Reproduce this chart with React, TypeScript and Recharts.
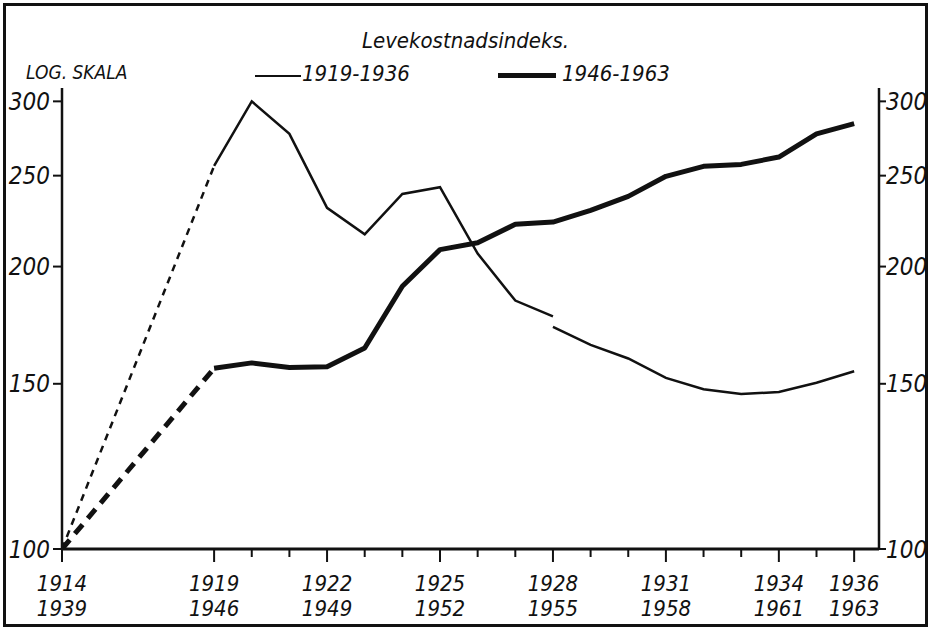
import { LineChart, Line, XAxis, YAxis } from 'recharts';

// index values, log scale
const baseYearA = 1914;
const baseYearB = 1939;
const baseValue = 100;

const yearsA = [1919, 1920, 1921, 1922, 1923, 1924, 1925, 1926, 1927, 1928, 1929, 1930, 1931, 1932, 1933, 1934, 1935, 1936];
const yearsB = [1946, 1947, 1948, 1949, 1950, 1951, 1952, 1953, 1954, 1955, 1956, 1957, 1958, 1959, 1960, 1961, 1962, 1963];

// 1919-1936, thin line (break in 1928)
const thinPart1 = [256, 300, 277, 231, 216.5, 239, 243, 206.5, 184, 177];
const thinPart2 = [172.5, 165, 159.6, 152.2, 148, 146.3, 147, 150.4, 154.7];

// 1946-1963, thick line
const thickValues = [155.8, 157.9, 156.1, 156.4, 163.8, 190.6, 208.5, 212, 221.9, 223.1, 229.6, 237.6, 249.6, 255.8, 257, 261.7, 277, 284];

const labeledA = [1914, 1919, 1922, 1925, 1928, 1931, 1934, 1936];
const labeledB = [baseYearB, 1946, 1949, 1952, 1955, 1958, 1961, 1963];
const yTicks = [100, 150, 200, 250, 300];

// the axis is broken between 1914 and 1919 (drawn narrower)
const gapWidth = 4.04;
const xPos = (yearA: number) => (yearA < 1919 ? 1919 - gapWidth : yearA);

const dashedA = [
  { x: xPos(baseYearA), v: baseValue },
  { x: xPos(yearsA[0]), v: thinPart1[0] },
];
const solidA1 = thinPart1.map((v, i) => ({ x: xPos(yearsA[i]), v }));
const solidA2 = thinPart2.map((v, i) => ({ x: xPos(yearsA[i + 9]), v }));
const dashedB = [
  { x: xPos(baseYearA), v: baseValue },
  { x: xPos(yearsB[0] - 27), v: thickValues[0] },
];
const solidB = thickValues.map((v, i) => ({ x: xPos(yearsB[i] - 27), v }));

const xTicks = [baseYearA, ...yearsA].map(xPos);

const font = "'DejaVu Sans Condensed', 'Liberation Sans Narrow', sans-serif";
const ink = '#111';

const XTick = (props: any) => {
  const { x, y, payload } = props;
  const idx = labeledA.findIndex((yr) => Math.abs(xPos(yr) - payload.value) < 0.01);
  const major = idx >= 0;
  return (
    <g>
      <line x1={x} y1={y} x2={x} y2={y + (major ? 13 : 8)} stroke={ink} strokeWidth={2} />
      {major && (
        <>
          <text x={x} y={y + 42} textAnchor="middle" fontSize={22} fontStyle="italic" fontFamily={font} fill={ink}>
            {labeledA[idx]}
          </text>
          <text x={x} y={y + 67} textAnchor="middle" fontSize={22} fontStyle="italic" fontFamily={font} fill={ink}>
            {labeledB[idx]}
          </text>
        </>
      )}
    </g>
  );
};

const App = () => {
  return (
    <div style={{ position: 'relative', width: 931, height: 631, background: '#fff' }}>
      <style>{`body{margin:0}`}</style>
      <div
        style={{
          position: 'absolute',
          left: 3,
          top: 3,
          width: 919,
          height: 618,
          border: `3px solid ${ink}`,
        }}
      />
      <div
        style={{
          position: 'absolute',
          left: 0,
          width: 931,
          top: 28,
          textAlign: 'center',
          fontFamily: font,
          fontStyle: 'italic',
          fontSize: 22,
          color: ink,
        }}
      >
        Levekostnadsindeks.
      </div>
      <div style={{ position: 'absolute', left: 26, top: 61, fontFamily: font, fontStyle: 'italic', fontSize: 19, color: ink }}>
        LOG. SKALA
      </div>
      <div style={{ position: 'absolute', left: 255, top: 75, width: 46, height: 2, background: ink }} />
      <div style={{ position: 'absolute', left: 302, top: 61, fontFamily: font, fontStyle: 'italic', fontSize: 22, color: ink }}>
        1919-1936
      </div>
      <div style={{ position: 'absolute', left: 498, top: 73, width: 58, height: 5, background: ink }} />
      <div style={{ position: 'absolute', left: 562, top: 61, fontFamily: font, fontStyle: 'italic', fontSize: 22, color: ink }}>
        1946-1963
      </div>
      <div style={{ position: 'absolute', left: 0, top: 0 }}>
        <LineChart width={931} height={631} margin={{ top: 88, right: 2, bottom: 22, left: 12 }}>
          <XAxis
            dataKey="x"
            type="number"
            domain={[xPos(baseYearA), 1936.66]}
            ticks={xTicks}
            interval={0}
            allowDataOverflow
            height={60}
            tickSize={0}
            tickMargin={0}
            tickLine={false}
            axisLine={{ stroke: ink, strokeWidth: 3 }}
            tick={<XTick />}
          />
          <YAxis
            yAxisId="left"
            scale="log"
            domain={[100, 310]}
            allowDataOverflow
            ticks={yTicks}
            interval={0}
            width={50}
            tickSize={9}
            tickMargin={3}
            axisLine={{ stroke: ink, strokeWidth: 2.5 }}
            tickLine={{ stroke: ink, strokeWidth: 2 }}
            tick={{ fill: ink, fontSize: 24, fontStyle: 'italic', fontFamily: font }}
          />
          <YAxis
            yAxisId="right"
            orientation="right"
            scale="log"
            domain={[100, 310]}
            allowDataOverflow
            ticks={yTicks}
            interval={0}
            width={50}
            tickSize={7}
            tickMargin={0}
            axisLine={{ stroke: ink, strokeWidth: 2.5 }}
            tickLine={{ stroke: ink, strokeWidth: 2 }}
            tick={{ fill: ink, fontSize: 24, fontStyle: 'italic', fontFamily: font }}
          />
          <Line yAxisId="left" data={dashedA} dataKey="v" stroke={ink} strokeWidth={2.5} strokeDasharray="7 6" dot={false} isAnimationActive={false} />
          <Line yAxisId="left" data={solidA1} dataKey="v" stroke={ink} strokeWidth={2.5} dot={false} isAnimationActive={false} />
          <Line yAxisId="left" data={solidA2} dataKey="v" stroke={ink} strokeWidth={2.5} dot={false} isAnimationActive={false} />
          <Line yAxisId="left" data={dashedB} dataKey="v" stroke={ink} strokeWidth={5} strokeDasharray="12 8" dot={false} isAnimationActive={false} />
          <Line yAxisId="left" data={solidB} dataKey="v" stroke={ink} strokeWidth={5} strokeLinejoin="round" dot={false} isAnimationActive={false} />
        </LineChart>
      </div>
    </div>
  );
};

export default App;
